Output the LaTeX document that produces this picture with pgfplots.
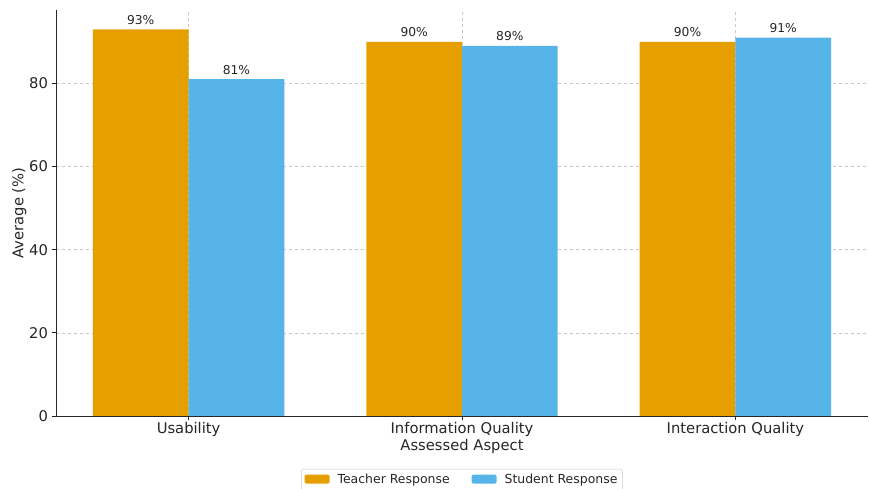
\documentclass[border=0pt]{standalone}
\usepackage{pgfplots}
\pgfplotsset{compat=1.18}
\usepackage{fontspec}
\setmainfont{DejaVu Sans}
\definecolor{teacher}{HTML}{E5A000}
\definecolor{student}{HTML}{56B4E9}
\definecolor{txt}{HTML}{262626}
\begin{document}
\begin{tikzpicture}[x=1bp,y=1bp]
\useasboundingbox (0,0) rectangle (869,489);
\begin{axis}[
  at={(56bp,73bp)}, anchor=south west,
  scale only axis, width=812bp, height=406bp,
  xmin=-0.485, xmax=2.485, ymin=0, ymax=97.65,
  xtick={0,1,2},
  xticklabels={Usability, Information Quality, Interaction Quality},
  ytick={0,20,40,60,80},
  axis x line*=bottom, axis y line*=left,
  axis line style={txt, line width=0.9bp},
  tick align=outside, major tick length=4.5bp,
  tick style={txt, line width=0.9bp},
  grid=major, major grid style={dashed, black!22, line width=0.5bp},
  /pgf/number format/assume math mode=true,
  tick label style={font=\fontsize{14.8}{17}\selectfont, text=txt},
  xticklabel style={yshift=1.5bp},
  xlabel={Assessed Aspect}, ylabel={Average (\%)},
  label style={font=\fontsize{14.8}{17}\selectfont, text=txt},
  xlabel style={yshift=4bp},
  ylabel style={yshift=-4bp},
  ybar, bar width=0.35,
  nodes near coords={\pgfmathprintnumber{\pgfplotspointmeta}\%},
  every node near coord/.append style={font=\fontsize{12.3}{14}\selectfont, text=txt, anchor=south, yshift=1.5bp},
  legend columns=2,
  legend style={at={(0.5,-0.1305)}, anchor=north, draw=black!20, rounded corners=2bp,
    font=\fontsize{12.5}{14}\selectfont, text=txt, inner sep=3bp,
    /tikz/every odd column/.append style={column sep=6bp},
    /tikz/every even column/.append style={column sep=20bp}},
  legend image code/.code={\fill[#1] (0bp,-4bp) rectangle (25bp,5bp);},
]
\addplot[fill=teacher, draw=none, bar shift=-0.175] coordinates {(0,93) (1,90) (2,90)};
\addlegendentry{Teacher Response}
\addplot[fill=student, draw=none, bar shift=0.175] coordinates {(0,81) (1,89) (2,91)};
\addlegendentry{Student Response}
\end{axis}
\end{tikzpicture}
\end{document}
